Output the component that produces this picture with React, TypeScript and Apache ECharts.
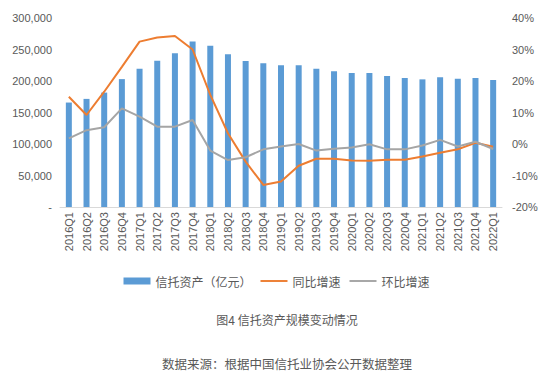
import React, { useEffect, useRef } from "react";
import * as echarts from "echarts";

const categories = [
  "2016Q1", "2016Q2", "2016Q3", "2016Q4",
  "2017Q1", "2017Q2", "2017Q3", "2017Q4",
  "2018Q1", "2018Q2", "2018Q3", "2018Q4",
  "2019Q1", "2019Q2", "2019Q3", "2019Q4",
  "2020Q1", "2020Q2", "2020Q3", "2020Q4",
  "2021Q1", "2021Q2", "2021Q3", "2021Q4",
  "2022Q1",
];

const trustAssets = [
  165800, 171600, 181600, 203000,
  219500, 232000, 244000, 262600,
  255800, 242600, 231600, 228000,
  225000, 225000, 219600, 215300,
  212700, 212700, 207900, 204800,
  202600, 205800, 203700, 204800,
  201600,
];

const yoyGrowth = [
  15.0, 9.2, 16.6, 24.5,
  32.5, 33.8, 34.3, 30.0,
  15.6, 3.4, -5.6, -13.0,
  -11.9, -6.9, -4.7, -4.7,
  -5.2, -5.3, -5.0, -5.0,
  -4.0, -2.8, -1.7, 0.4,
  -0.9,
];

const qoqGrowth = [
  1.8, 4.4, 5.3, 11.3,
  8.7, 5.5, 5.5, 7.6,
  -2.1, -5.1, -4.2, -1.7,
  -0.8, 0.0, -2.1, -1.5,
  -1.1, -0.1, -1.7, -1.7,
  -0.5, 1.3, -0.8, 0.7,
  -1.6,
];

const seriesNames = ["信托资产（亿元）", "同比增速", "环比增速"];
const chartTitle = "图4 信托资产规模变动情况";
const sourceNote = "数据来源：根据中国信托业协会公开数据整理";

const lineIcon = "path://M0,0 L28,0 L28,2 L0,2 Z";

export default function App() {
  const ref = useRef<HTMLDivElement>(null);

  useEffect(() => {
    if (!ref.current) return;
    const chart = echarts.init(ref.current, undefined, { renderer: "svg" });
    const textColor = "#595959";
    chart.setOption({
      animation: false,
      backgroundColor: "#ffffff",
      textStyle: { fontFamily: "'Liberation Sans', Arial, 'Noto Sans CJK SC', sans-serif" },
      grid: { left: 60, right: 51, top: 18, bottom: 166, containLabel: false },
      legend: {
        data: [
          { name: seriesNames[0], icon: "rect" },
          { name: seriesNames[1], icon: lineIcon },
          { name: seriesNames[2], icon: lineIcon },
        ],
        top: 270,
        left: "center",
        itemWidth: 27,
        itemHeight: 7,
        itemGap: 9,
        textStyle: {
          color: textColor,
          fontSize: 12,
          fontFamily: "'Noto Sans CJK SC', sans-serif",
        },
      },
      xAxis: {
        type: "category",
        data: categories,
        axisLine: { show: true, lineStyle: { color: "#D9D9D9", width: 1 } },
        axisTick: { show: false },
        axisLabel: {
          rotate: 90,
          color: textColor,
          fontSize: 11,
          margin: 5,
          interval: 0,
        },
      },
      yAxis: [
        {
          type: "value",
          min: 0,
          max: 300000,
          interval: 50000,
          axisLine: { show: false },
          axisTick: { show: false },
          splitLine: { show: false },
          axisLabel: {
            color: textColor,
            fontSize: 11,
            margin: 8,
            formatter: (v: number) => (v === 0 ? "-" : v.toLocaleString("en-US")),
          },
        },
        {
          type: "value",
          min: -20,
          max: 40,
          interval: 10,
          position: "right",
          axisLine: { show: false },
          axisTick: { show: false },
          splitLine: { show: false },
          axisLabel: {
            color: textColor,
            fontSize: 11,
            margin: 10,
            formatter: "{value}%",
          },
        },
      ],
      series: [
        {
          name: seriesNames[0],
          type: "bar",
          data: trustAssets,
          barWidth: 6,
          itemStyle: { color: "#5B9BD5" },
          yAxisIndex: 0,
        },
        {
          name: seriesNames[1],
          type: "line",
          data: yoyGrowth,
          yAxisIndex: 1,
          symbol: "none",
          lineStyle: { color: "#ED7D31", width: 2 },
          itemStyle: { color: "#ED7D31" },
        },
        {
          name: seriesNames[2],
          type: "line",
          data: qoqGrowth,
          yAxisIndex: 1,
          symbol: "none",
          lineStyle: { color: "#A5A5A5", width: 2 },
          itemStyle: { color: "#A5A5A5" },
        },
      ],
      graphic: [
        {
          type: "text",
          x: 287,
          y: 319,
          style: {
            text: chartTitle,
            fill: textColor,
            fontSize: 12,
            fontFamily: "'Noto Sans CJK SC', sans-serif",
            textAlign: "center",
            textVerticalAlign: "middle",
          },
        },
        {
          type: "text",
          x: 287,
          y: 363,
          style: {
            text: sourceNote,
            fill: textColor,
            fontSize: 12.5,
            fontFamily: "'Noto Sans CJK SC', sans-serif",
            textAlign: "center",
            textVerticalAlign: "middle",
          },
        },
      ],
    });
    return () => chart.dispose();
  }, []);

  return (
    <div
      ref={ref}
      style={{ position: "fixed", left: 0, top: 0, width: 553, height: 373 }}
    />
  );
}
